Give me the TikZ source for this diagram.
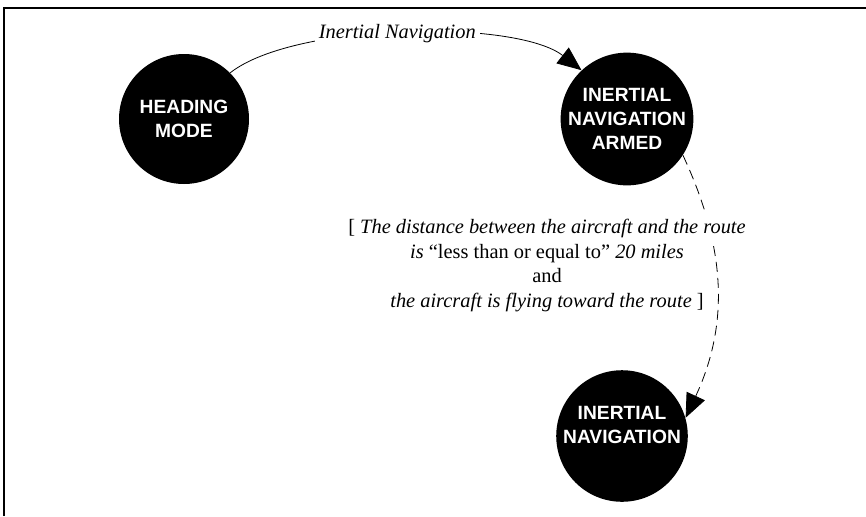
\documentclass[tikz,border=0pt]{standalone}
\usepackage{fontspec}
\setmainfont{Liberation Serif}
\newfontfamily\modefont{Liberation Sans}
\usetikzlibrary{arrows.meta}
\usetikzlibrary{positioning}
\setlength{\fboxsep}{2.5pt}
\tikzset{
  >={Triangle[length=12pt,width=10pt]},
  line width = 0.8pt,
  mode/.style = {circle, fill=black, text=white, minimum size=65pt, inner sep=0pt,
    align=center, font=\modefont\bfseries\fontsize{9.6}{12}\selectfont},
  guard/.style = {align=center, inner sep=2pt,
    font=\fontsize{10.2}{12.4}\selectfont},
  cond/.style = {->, dash pattern=on 5pt off 3pt},
}

\begin{document}
\begin{tikzpicture}[x=0.5pt, y=0.5pt]
    \useasboundingbox (0,0) rectangle (866,516);
    \draw [line width=1pt] (4,0) |- (866,508.5);
    \node [mode] (hdg) at (184,397) {HEADING\\MODE};
    \node [mode, right of = hdg, node distance = 221.5pt] (armed) {INERTIAL\\NAVIGATION\\ARMED};
    \node [mode, below of = armed, node distance = 158.5pt, xshift = -2.5pt, text depth = 11pt] (inav) {INERTIAL\\NAVIGATION};
    \draw [->] (hdg.45) to [out = 38, in = 142, looseness = 0.6] node [guard, fill = white, pos = 0.48] (nav) {\itshape Inertial Navigation} (armed.133);
    \draw [cond] (armed.-33) to [out = -65, in = 65] (inav.16);
    \node [guard] (txt) at (547,253) {\colorbox{white}{[ \textit{The distance between the aircraft and the route}}\\
      \textit{is} “less than or equal to” \textit{20 miles}\\
      and\\
      \textit{the aircraft is flying toward the route} ]};
\end{tikzpicture}
\end{document}
